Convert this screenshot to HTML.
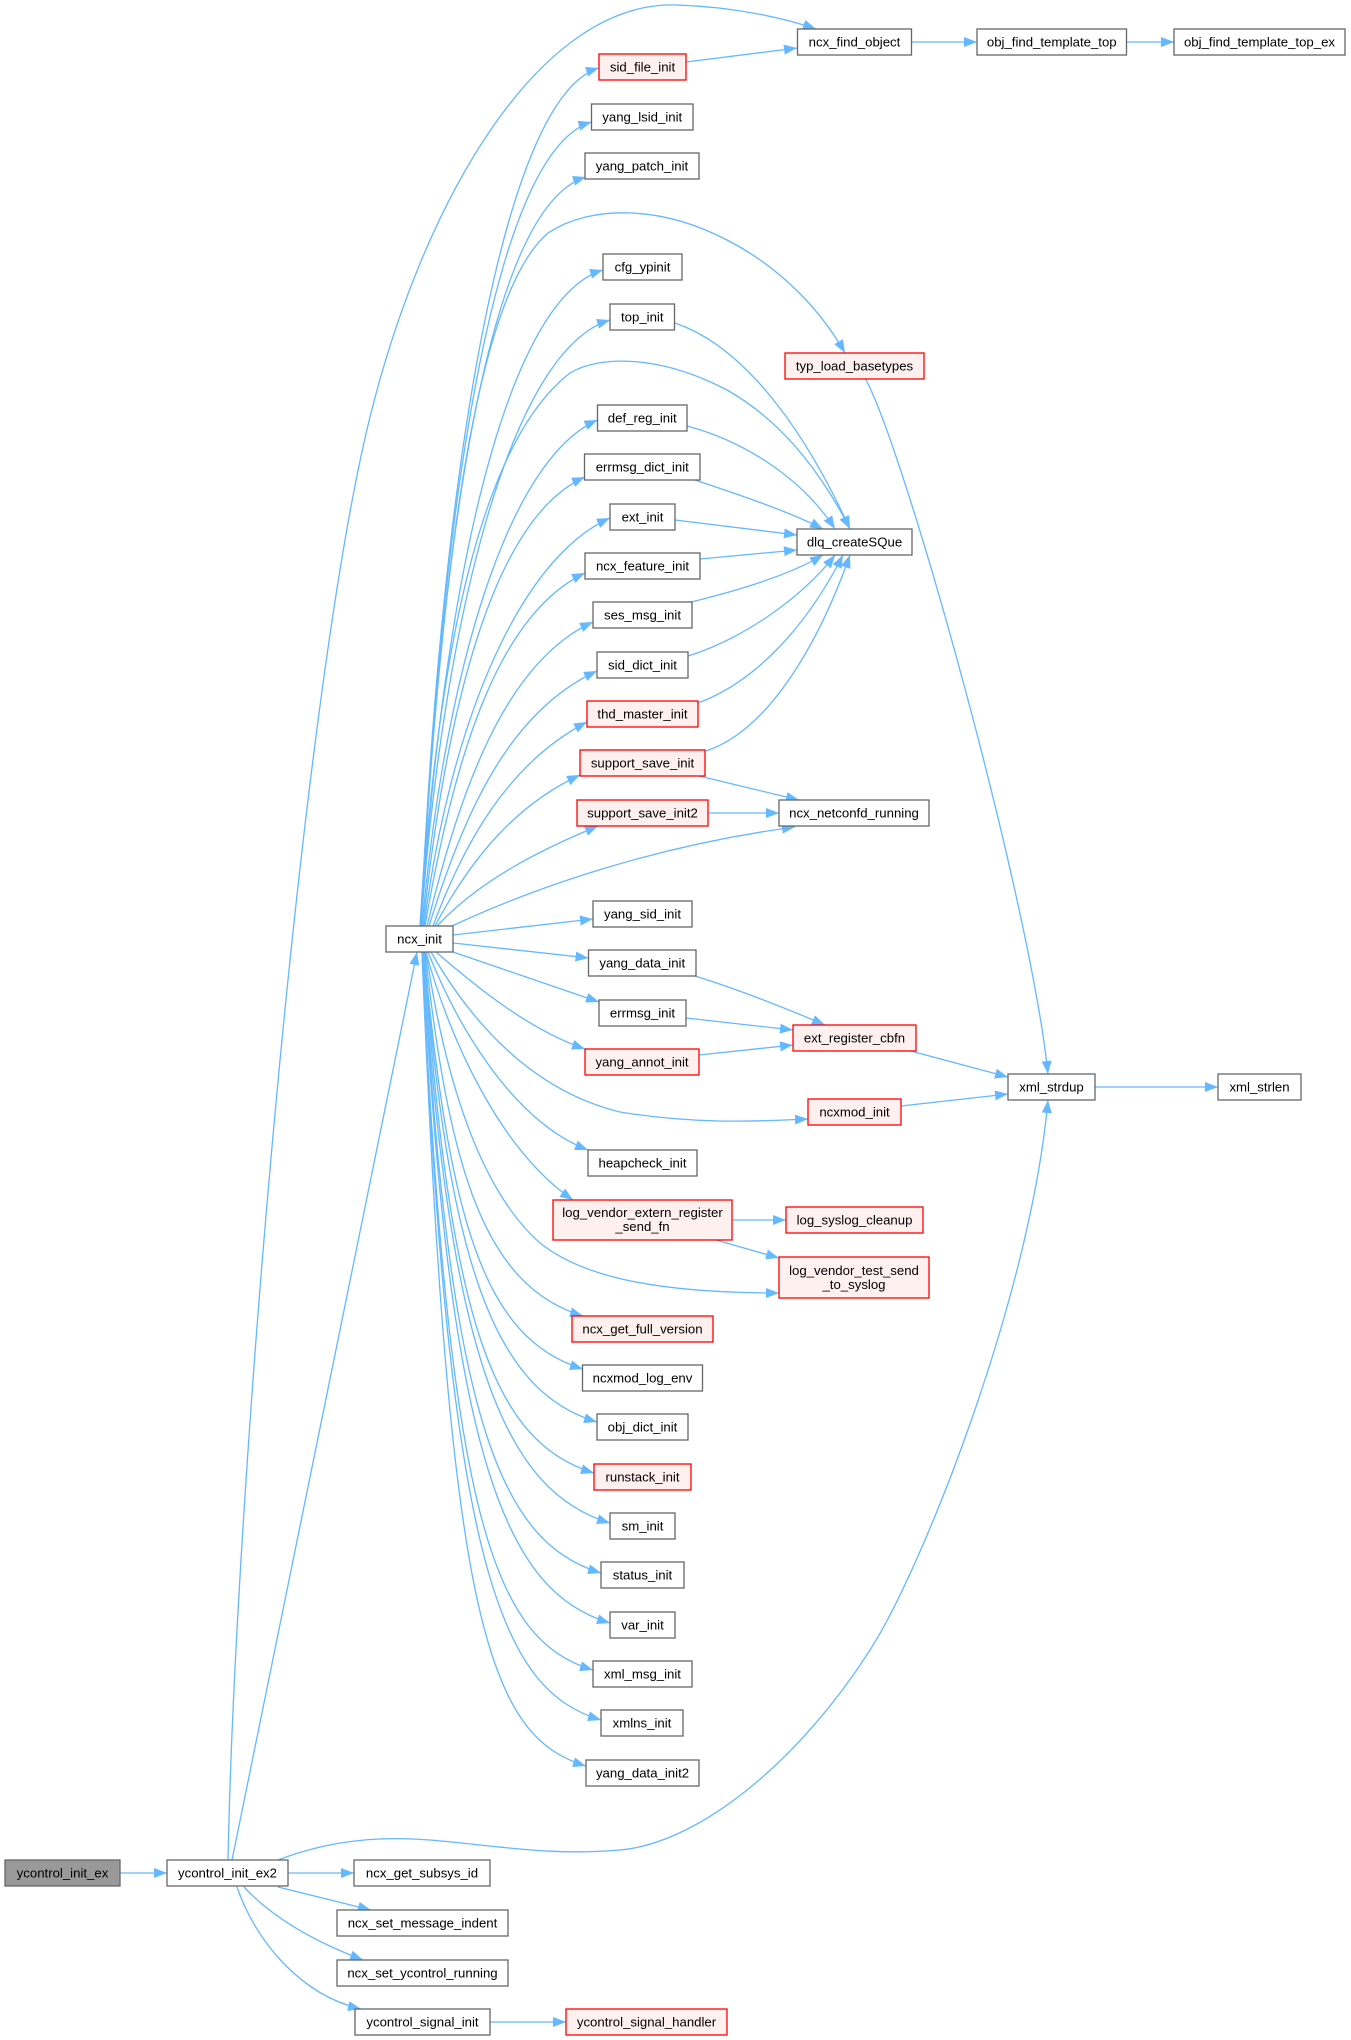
<!DOCTYPE html>
<html><head><meta charset="utf-8"><style>
html,body{margin:0;padding:0;background:#fff;}
svg{display:block;}
text{font-family:"Liberation Sans",Arial,sans-serif;font-size:13.2px;fill:#000;text-anchor:middle;}
.e{fill:none;stroke:#63b8ff;stroke-width:1.3;marker-end:url(#a);}
.n{fill:#fff;stroke:#666;stroke-width:1.3;}
.r{fill:#fff0f0;stroke:#ff0000;stroke-width:1.3;}
.g{fill:#999;stroke:#666;stroke-width:1.3;}
</style></head><body>
<svg width="1351" height="2040" viewBox="0 0 1351 2040" xmlns="http://www.w3.org/2000/svg">
<defs><marker id="a" markerUnits="userSpaceOnUse" markerWidth="14" markerHeight="11" refX="13" refY="5" orient="auto"><path d="M0,0 L13,5 L0,10 z" fill="#63b8ff"/></marker></defs>
<g>
<path class="e" d="M120,1873 L167,1873"/>
<path class="e" d="M288,1873 L354,1873"/>
<path class="e" d="M278,1887 L371,1910"/>
<path class="e" d="M244,1887 C270,1915 310,1940 363,1960"/>
<path class="e" d="M237,1887 C255,1940 300,1995 361,2009"/>
<path class="e" d="M490,2022 L566,2022"/>
<path class="e" d="M232,1860 L417,952"/>
<path class="e" d="M228,1860 C235,1500 300,700 370,417 C424,199 540,0 677,5 C740,7 790,20 816,29"/>
<path class="e" d="M278,1860 C330,1840 380,1836 430,1840 C500,1846 550,1856 620,1850 C700,1843 800,1760 870,1650 C920,1573 1030,1300 1048,1100"/>
<path class="e" d="M686,62 L797,48"/>
<path class="e" d="M911.5,42 L977,42"/>
<path class="e" d="M1126.5,42 L1174,42"/>
<path class="e" d="M420,926 C440,600 470,300 548,233 C590,205 660,205 727,240 C770,262 815,300 845,353"/>
<path class="e" d="M420,926 C435,700 470,450 570,373 C600,355 660,355 727,390 C780,420 820,470 850,529"/>
<path class="e" d="M675,323 C740,345 800,420 850,529"/>
<path class="e" d="M687,426 C740,440 800,475 835,529"/>
<path class="e" d="M695,480 C740,495 790,512 823,529"/>
<path class="e" d="M675,520 L797,535"/>
<path class="e" d="M700,559 L797,550"/>
<path class="e" d="M691,602 C740,590 790,575 823,555"/>
<path class="e" d="M688,656 C740,640 800,600 835,555"/>
<path class="e" d="M698,703 C760,680 810,620 843,555"/>
<path class="e" d="M706,751 C770,730 820,640 850,555"/>
<path class="e" d="M699,776 L799,800"/>
<path class="e" d="M708,813 L779,813"/>
<path class="e" d="M452,926 C540,885 660,845 795,827"/>
<path class="e" d="M453,935 L593,919"/>
<path class="e" d="M453,943 L588.5,958"/>
<path class="e" d="M453,952 L599,1002"/>
<path class="e" d="M695,976 C740,990 790,1010 825,1025"/>
<path class="e" d="M686,1018 L793,1030"/>
<path class="e" d="M699,1055 L793,1045"/>
<path class="e" d="M907,1050 L1008,1077"/>
<path class="e" d="M901,1106 L1008,1094"/>
<path class="e" d="M865,378 C905,450 1030,900 1048,1074"/>
<path class="e" d="M1095,1087 L1218,1087"/>
<path class="e" d="M732,1220 L786,1220"/>
<path class="e" d="M716,1240 L779,1258"/>
<path class="e" d="M436,952 C480,990 530,1030 585,1049"/>
<path class="e" d="M431,952 C470,1020 530,1090 620,1112 C700,1125 760,1121 808,1119"/>
<path class="e" d="M428,952 C455,1020 510,1120 588,1150"/>
<path class="e" d="M426,952 C450,1040 500,1150 573,1200"/>
<path class="e" d="M426,952 C445,1080 480,1190 540,1243 C580,1275 650,1293 779,1293"/>
<path class="e" d="M425,952 C449,1166 483,1286 583,1316"/>
<path class="e" d="M424,952 C449,1219 483,1339 583,1369"/>
<path class="e" d="M424,952 C449,1272 497,1392 597,1422"/>
<path class="e" d="M424,952 C449,1323 494,1443 594,1473"/>
<path class="e" d="M423,952 C449,1373 510,1493 610,1523"/>
<path class="e" d="M423,952 C449,1423 501,1543 601,1573"/>
<path class="e" d="M423,952 C449,1473 510,1593 610,1623"/>
<path class="e" d="M422,952 C449,1520 493,1640 593,1670"/>
<path class="e" d="M422,952 C449,1570 501,1690 601,1720"/>
<path class="e" d="M422,952 C449,1616 486,1736 586,1766"/>
<path class="e" d="M421,926 C440,497 499,98 599,68"/>
<path class="e" d="M421,926 C440,524 491,152 591.5,122"/>
<path class="e" d="M421,926 C440,551 486,207 586,177"/>
<path class="e" d="M421,926 C442,598 503,300 603,270"/>
<path class="e" d="M421,926 C443,623 510,350 610,320"/>
<path class="e" d="M422,926 C445,673 507,460 597.5,420"/>
<path class="e" d="M423,926 C447,700 495,517 585,477"/>
<path class="e" d="M424,926 C450,722 520,558 610,518"/>
<path class="e" d="M425,926 C455,750 500,613 585,573"/>
<path class="e" d="M427,926 C460,790 505,662 593,622"/>
<path class="e" d="M429,926 C465,810 510,711 597,671"/>
<path class="e" d="M433,926 C465,840 510,762 587,722"/>
<path class="e" d="M435,926 C470,860 515,805 580,775"/>
<path class="e" d="M437,926 C480,880 540,850 598,826"/>
</g>
<g>
<rect class="g" x="5" y="1860" width="115" height="26"/><text x="62.5" y="1877.5">ycontrol_init_ex</text>
<rect class="n" x="167" y="1860" width="121" height="26"/><text x="227.5" y="1877.5">ycontrol_init_ex2</text>
<rect class="n" x="354" y="1860" width="136" height="26"/><text x="422" y="1877.5">ncx_get_subsys_id</text>
<rect class="n" x="337" y="1910" width="171" height="26"/><text x="422.5" y="1927.5">ncx_set_message_indent</text>
<rect class="n" x="337" y="1960" width="171" height="26"/><text x="422.5" y="1977.5">ncx_set_ycontrol_running</text>
<rect class="n" x="355" y="2009" width="135" height="26"/><text x="422.5" y="2026.5">ycontrol_signal_init</text>
<rect class="r" x="566" y="2009" width="161" height="26"/><text x="646.5" y="2026.5">ycontrol_signal_handler</text>
<rect class="n" x="386" y="926" width="67" height="26"/><text x="419.5" y="943.5">ncx_init</text>
<rect class="n" x="797.5" y="29" width="114" height="26"/><text x="854.5" y="46.5">ncx_find_object</text>
<rect class="n" x="977" y="29" width="149.5" height="26"/><text x="1051.75" y="46.5">obj_find_template_top</text>
<rect class="n" x="1174" y="29" width="171" height="26"/><text x="1259.5" y="46.5">obj_find_template_top_ex</text>
<rect class="r" x="599" y="54" width="87" height="26"/><text x="642.5" y="71.5">sid_file_init</text>
<rect class="n" x="591.5" y="104" width="101.5" height="26"/><text x="642.25" y="121.5">yang_lsid_init</text>
<rect class="n" x="585" y="153" width="114" height="26"/><text x="642" y="170.5">yang_patch_init</text>
<rect class="n" x="603" y="254" width="79" height="26"/><text x="642.5" y="271.5">cfg_ypinit</text>
<rect class="n" x="610" y="304" width="64.5" height="26"/><text x="642.25" y="321.5">top_init</text>
<rect class="r" x="785" y="353" width="139" height="26"/><text x="854.5" y="370.5">typ_load_basetypes</text>
<rect class="n" x="597.5" y="405" width="89.5" height="26"/><text x="642.25" y="422.5">def_reg_init</text>
<rect class="n" x="584.5" y="454" width="115.5" height="26"/><text x="642.25" y="471.5">errmsg_dict_init</text>
<rect class="n" x="610" y="504" width="65" height="26"/><text x="642.5" y="521.5">ext_init</text>
<rect class="n" x="797" y="529" width="115" height="26"/><text x="854.5" y="546.5">dlq_createSQue</text>
<rect class="n" x="585" y="553" width="115" height="26"/><text x="642.5" y="570.5">ncx_feature_init</text>
<rect class="n" x="593" y="602" width="99" height="26"/><text x="642.5" y="619.5">ses_msg_init</text>
<rect class="n" x="597" y="652" width="91" height="26"/><text x="642.5" y="669.5">sid_dict_init</text>
<rect class="r" x="587" y="701" width="111" height="26"/><text x="642.5" y="718.5">thd_master_init</text>
<rect class="r" x="580" y="750" width="125" height="26"/><text x="642.5" y="767.5">support_save_init</text>
<rect class="r" x="577" y="800" width="131" height="26"/><text x="642.5" y="817.5">support_save_init2</text>
<rect class="n" x="779" y="800" width="150" height="26"/><text x="854" y="817.5">ncx_netconfd_running</text>
<rect class="n" x="593" y="901" width="99" height="26"/><text x="642.5" y="918.5">yang_sid_init</text>
<rect class="n" x="588.5" y="950" width="107.5" height="26"/><text x="642.25" y="967.5">yang_data_init</text>
<rect class="n" x="599" y="1000" width="87" height="26"/><text x="642.5" y="1017.5">errmsg_init</text>
<rect class="r" x="793" y="1025" width="123" height="26"/><text x="854.5" y="1042.5">ext_register_cbfn</text>
<rect class="r" x="585" y="1049" width="114" height="26"/><text x="642" y="1066.5">yang_annot_init</text>
<rect class="n" x="1008" y="1074" width="87" height="26"/><text x="1051.5" y="1091.5">xml_strdup</text>
<rect class="n" x="1218" y="1074" width="83" height="26"/><text x="1259.5" y="1091.5">xml_strlen</text>
<rect class="r" x="808" y="1099" width="93" height="26"/><text x="854.5" y="1116.5">ncxmod_init</text>
<rect class="n" x="588" y="1150" width="109" height="26"/><text x="642.5" y="1167.5">heapcheck_init</text>
<rect class="r" x="553" y="1200" width="179" height="40"/><text x="642.5" y="1217">log_vendor_extern_register</text><text x="642.5" y="1231">_send_fn</text>
<rect class="r" x="786" y="1207" width="137" height="26"/><text x="854.5" y="1224.5">log_syslog_cleanup</text>
<rect class="r" x="779" y="1257" width="150" height="41"/><text x="854" y="1275">log_vendor_test_send</text><text x="854" y="1289">_to_syslog</text>
<rect class="r" x="572" y="1316" width="141" height="26"/><text x="642.5" y="1333.5">ncx_get_full_version</text>
<rect class="n" x="582.5" y="1365" width="120" height="26"/><text x="642.5" y="1382.5">ncxmod_log_env</text>
<rect class="n" x="597" y="1414" width="91" height="26"/><text x="642.5" y="1431.5">obj_dict_init</text>
<rect class="r" x="594" y="1464" width="97" height="26"/><text x="642.5" y="1481.5">runstack_init</text>
<rect class="n" x="610" y="1513" width="65" height="26"/><text x="642.5" y="1530.5">sm_init</text>
<rect class="n" x="601" y="1562" width="83" height="26"/><text x="642.5" y="1579.5">status_init</text>
<rect class="n" x="610" y="1612" width="65" height="26"/><text x="642.5" y="1629.5">var_init</text>
<rect class="n" x="593" y="1661" width="99" height="26"/><text x="642.5" y="1678.5">xml_msg_init</text>
<rect class="n" x="601" y="1710" width="82" height="26"/><text x="642" y="1727.5">xmlns_init</text>
<rect class="n" x="586" y="1760" width="113" height="26"/><text x="642.5" y="1777.5">yang_data_init2</text>
</g>
</svg>
</body></html>
